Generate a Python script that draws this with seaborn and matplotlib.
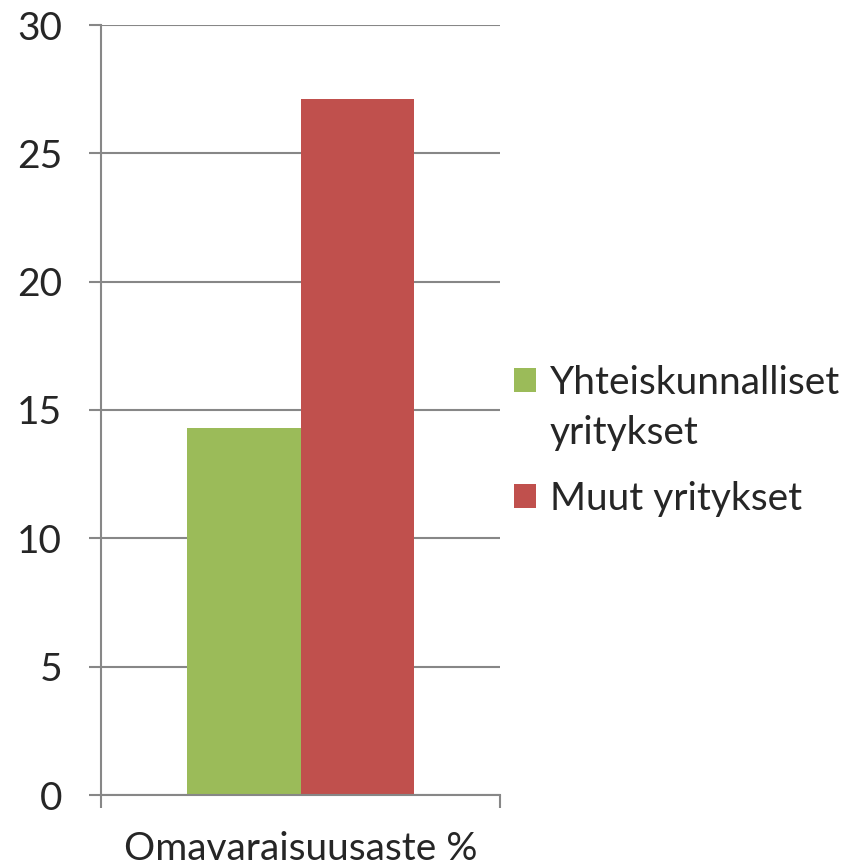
import matplotlib
matplotlib.use("Agg")
import matplotlib.pyplot as plt
import seaborn as sns
import pandas as pd

# data
categories = ["Omavaraisuusaste %"]
series = ["Yhteiskunnalliset\nyritykset", "Muut yritykset"]
values = [14.3, 27.1]
colors = ["#9BBB59", "#C0504D"]

df = pd.DataFrame({
    "category": categories * len(series),
    "series": series,
    "value": values,
})

sns.set_style("white")
plt.rcParams["font.family"] = ["Lato", "DejaVu Sans"]

fig = plt.figure(figsize=(8.61, 8.66), dpi=100)
ax = fig.add_axes([101 / 861, 71 / 866, 399 / 861, 770 / 866])

sns.barplot(data=df, x="category", y="value", hue="series",
            palette=colors, width=0.57, saturation=1, linewidth=0,
            edgecolor="none", ax=ax)

grid_c = "#878787"
ax.set_ylim(0, 30)
ax.set_xlim(-0.5, 0.5)
ax.set_yticks(range(0, 31, 5))
ax.yaxis.grid(True, color=grid_c, linewidth=1.5)
ax.set_axisbelow(True)
ax.tick_params(axis="y", left=True, length=9, width=1.5, color=grid_c,
               labelsize=28, pad=19)
ax.tick_params(axis="x", which="major", length=0, labelsize=28, pad=26)
ax.set_xticks([-0.5, 0.5], minor=True)
ax.tick_params(axis="x", which="minor", bottom=True, length=9, width=1.5,
               color=grid_c)
ax.set_xlabel("")
ax.set_ylabel("")
for s in ["top", "right"]:
    ax.spines[s].set_visible(False)
for s in ["left", "bottom"]:
    ax.spines[s].set_color(grid_c)
    ax.spines[s].set_linewidth(1.5)

handles, labels = ax.get_legend_handles_labels()
leg = ax.legend(handles, labels, loc="center left",
                bbox_to_anchor=(0.947, 0.46), frameon=False, fontsize=28,
                handlelength=0.57, handleheight=0.57, handletextpad=0.36,
                labelspacing=0.75)
for t in leg.get_texts():
    t.set_linespacing(1.5)
# put the first marker next to the first line of its two-line label
p = leg.get_patches()[0]
p.set_y(p.get_y() + 0.75 * 28)

fig.savefig("out.png", dpi=100)
